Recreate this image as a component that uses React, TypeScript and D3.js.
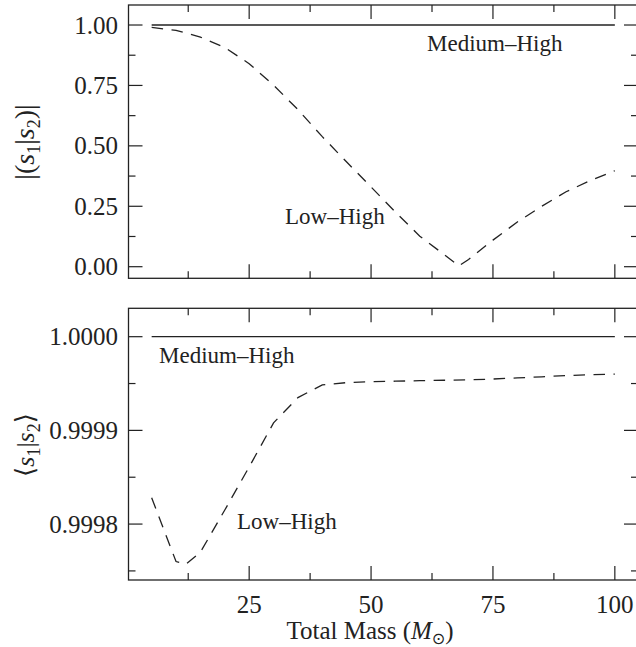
import React from "react";
import * as d3 from "d3";

// ---- data ----
const massTop = [5, 10, 15, 20, 25, 30, 35, 40, 45, 50, 55, 60, 65, 68, 70, 75, 80, 85, 90, 95, 100];
const lowHighTop = [0.99, 0.978, 0.95, 0.907, 0.84, 0.751, 0.65, 0.538, 0.433, 0.33, 0.226, 0.126, 0.05, 0.003, 0.03, 0.11, 0.185, 0.25, 0.31, 0.357, 0.397];
const medHighTop = [1.0, 1.0];
const massMed = [5, 100];

const massBottom = [5, 10, 12, 15, 20, 25, 30, 35, 40, 45, 50, 55, 60, 65, 70, 75, 80, 85, 90, 95, 100];
const lowHighBottom = [0.999828, 0.99976, 0.999757, 0.99977, 0.999815, 0.999861, 0.999908, 0.999935, 0.9999485, 0.999951, 0.999952, 0.9999525, 0.999953, 0.9999535, 0.999954, 0.9999548, 0.999956, 0.9999572, 0.9999585, 0.9999595, 0.99996];
const medHighBottom = [1.0, 1.0];

const xMajor = [25, 50, 75, 100];
const xMinor = [12.5, 37.5, 62.5, 87.5];
const topMajor = [0, 0.25, 0.5, 0.75, 1.0];
const topMajorLabels = ["0.00", "0.25", "0.50", "0.75", "1.00"];
const topMinor = [0.125, 0.375, 0.625, 0.875];
const botMajor = [0.9998, 0.9999, 1.0];
const botMajorLabels = ["0.9998", "0.9999", "1.0000"];
const botMinor = [0.99975, 0.99985, 0.99995];

const FONT = "'Liberation Serif', 'DejaVu Serif', serif";
const FS = 23;
const TFS = 25;

const L = 128.5, R = 638;
const topT = 5, topB = 278.3;
const botT = 308.3, botB = 580;

const x = d3.scaleLinear().domain([0.25, 104.75]).range([L, R]);
const yTop = d3.scaleLinear().domain([-0.048, 1.0828]).range([topB, topT]);
const yBot = d3.scaleLinear().domain([0.9997403, 1.0000303]).range([botB, botT]);

const MAJ = 14, MIN = 7;
const ink = "#222";

function Panel({ y, major, majorLabels, minor, t, b }: any) {
  const els: any[] = [];
  xMajor.forEach((v, i) => {
    els.push(<line key={"xmt" + i} x1={x(v)} x2={x(v)} y1={t} y2={t + MAJ} stroke={ink} strokeWidth={1.2} />);
    els.push(<line key={"xmb" + i} x1={x(v)} x2={x(v)} y1={b} y2={b - MAJ} stroke={ink} strokeWidth={1.2} />);
  });
  xMinor.forEach((v, i) => {
    els.push(<line key={"xnt" + i} x1={x(v)} x2={x(v)} y1={t} y2={t + MIN} stroke={ink} strokeWidth={1.2} />);
    els.push(<line key={"xnb" + i} x1={x(v)} x2={x(v)} y1={b} y2={b - MIN} stroke={ink} strokeWidth={1.2} />);
  });
  major.forEach((v: number, i: number) => {
    els.push(<line key={"yml" + i} x1={L} x2={L + MAJ} y1={y(v)} y2={y(v)} stroke={ink} strokeWidth={1.2} />);
    els.push(<line key={"ymr" + i} x1={R} x2={R - MAJ} y1={y(v)} y2={y(v)} stroke={ink} strokeWidth={1.2} />);
    els.push(
      <text key={"yl" + i} x={118} y={y(v)} dy="0.34em" textAnchor="end" fontFamily={FONT} fontSize={TFS} fill={ink}>
        {majorLabels[i]}
      </text>
    );
  });
  minor.forEach((v: number, i: number) => {
    els.push(<line key={"ynl" + i} x1={L} x2={L + MIN} y1={y(v)} y2={y(v)} stroke={ink} strokeWidth={1.2} />);
    els.push(<line key={"ynr" + i} x1={R} x2={R - MIN} y1={y(v)} y2={y(v)} stroke={ink} strokeWidth={1.2} />);
  });
  els.push(<rect key="frame" x={L} y={t} width={R - L} height={b - t} fill="none" stroke={ink} strokeWidth={1.3} />);
  return <g>{els}</g>;
}

export default function App() {
  const lineTop = d3.line<number>().x((_, i) => x(massTop[i])).y((v) => yTop(v));
  const lineTopMed = d3.line<number>().x((_, i) => x(massMed[i])).y((v) => yTop(v));
  const lineBot = d3.line<number>().x((_, i) => x(massBottom[i])).y((v) => yBot(v));
  const lineBotMed = d3.line<number>().x((_, i) => x(massMed[i])).y((v) => yBot(v));
  const dash = "11.5,8.5";
  return (
    <svg width={636} height={647} style={{ position: "absolute", left: 0, top: 0, background: "#fff" }}>
      <rect x={0} y={0} width={636} height={647} fill="#fff" />
      {/* top panel */}
      <path d={lineTopMed(medHighTop) || ""} fill="none" stroke={ink} strokeWidth={1.3} />
      <path d={lineTop(lowHighTop) || ""} fill="none" stroke={ink} strokeWidth={1.3} strokeDasharray={dash} />
      <Panel y={yTop} major={topMajor} majorLabels={topMajorLabels} minor={topMinor} t={topT} b={topB} />
      <text x={427} y={51} fontFamily={FONT} fontSize={FS} fill={ink}>Medium–High</text>
      <text x={285} y={224} fontFamily={FONT} fontSize={FS} fill={ink}>Low–High</text>

      {/* bottom panel */}
      <path d={lineBotMed(medHighBottom) || ""} fill="none" stroke={ink} strokeWidth={1.3} />
      <path d={lineBot(lowHighBottom) || ""} fill="none" stroke={ink} strokeWidth={1.3} strokeDasharray={dash} />
      <Panel y={yBot} major={botMajor} majorLabels={botMajorLabels} minor={botMinor} t={botT} b={botB} />
      <text x={159} y={363} fontFamily={FONT} fontSize={FS} fill={ink}>Medium–High</text>
      <text x={237} y={529} fontFamily={FONT} fontSize={FS} fill={ink}>Low–High</text>

      {/* x tick labels */}
      {xMajor.map((v, i) => (
        <text key={"xl" + i} x={x(v)} y={613} textAnchor="middle" fontFamily={FONT} fontSize={TFS} fill={ink}>
          {String(v)}
        </text>
      ))}
      <text x={370} y={639} textAnchor="middle" fontFamily={FONT} fontSize={TFS} fill={ink}>
        Total Mass (<tspan fontStyle="italic">M</tspan>
        <tspan fontSize={16} dy={5} fontFamily="'DejaVu Sans', sans-serif">⊙</tspan>
        <tspan dy={-5}>)</tspan>
      </text>

      {/* y labels */}
      <text transform="translate(34,142) rotate(-90)" textAnchor="middle" fontFamily={FONT} fontSize={28} fill={ink}>
        |(<tspan fontStyle="italic">s</tspan>
        <tspan fontSize={18} dy={6}>1</tspan>
        <tspan dy={-6}>|</tspan>
        <tspan fontStyle="italic">s</tspan>
        <tspan fontSize={18} dy={6}>2</tspan>
        <tspan dy={-6}>)|</tspan>
      </text>
      <text transform="translate(34,445) rotate(-90)" textAnchor="middle" fontFamily={FONT} fontSize={26} fill={ink}>
        <tspan fontFamily="'DejaVu Serif', serif">⟨</tspan>
        <tspan fontStyle="italic">s</tspan>
        <tspan fontSize={18} dy={6}>1</tspan>
        <tspan dy={-6}>|</tspan>
        <tspan fontStyle="italic">s</tspan>
        <tspan fontSize={18} dy={6}>2</tspan>
        <tspan dy={-6} fontFamily="'DejaVu Serif', serif">⟩</tspan>
      </text>
    </svg>
  );
}
